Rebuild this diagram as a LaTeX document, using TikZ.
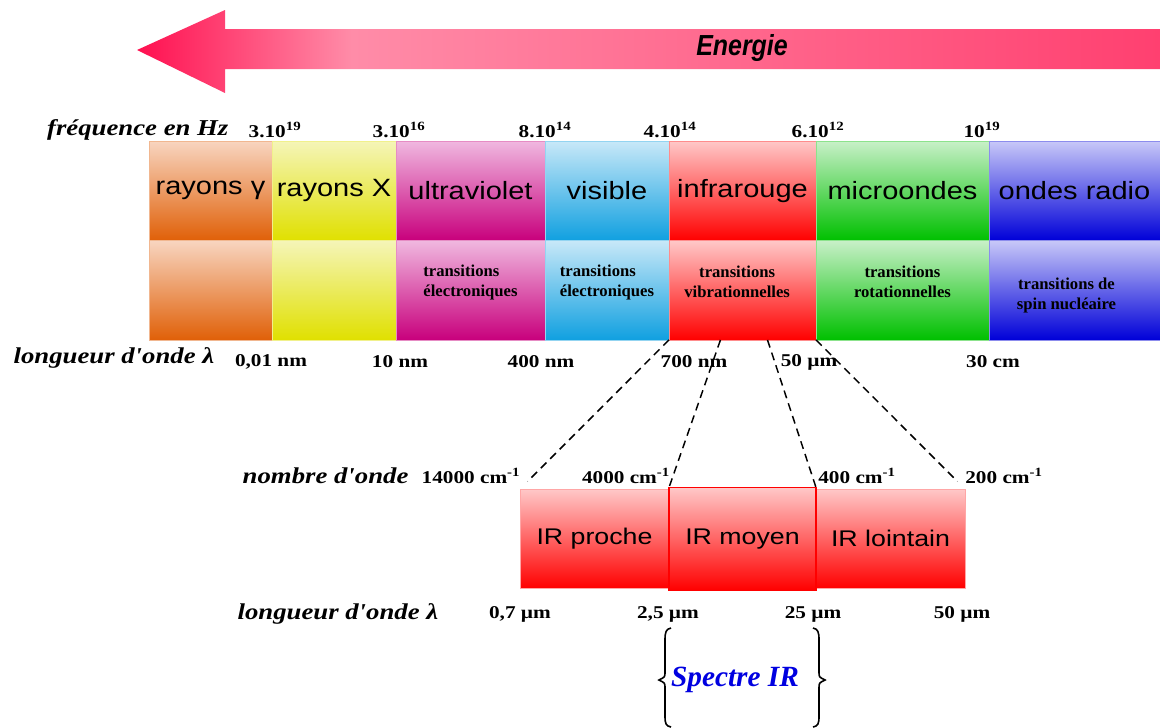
\documentclass[tikz,border=0pt]{standalone}
\usepackage{fontspec}
\setmainfont{Liberation Serif}
\newfontfamily\bandfont[FakeStretch=1.16]{Liberation Sans}
\newfontfamily\irfont[FakeStretch=1.18]{Liberation Sans}
\newfontfamily\enfont[FakeStretch=0.86]{Liberation Sans}
\newfontfamily\lblfont[FakeStretch=1.18]{Liberation Serif}
\newfontfamily\numfont[FakeStretch=1.18]{Liberation Serif}
\usetikzlibrary{positioning, calc}
\usepackage{xcolor}
\definecolor{gamT}{HTML}{F8D5C0}\definecolor{gamB}{HTML}{E06008}
\definecolor{xrT}{HTML}{F5F5B8}\definecolor{xrB}{HTML}{E0E000}
\definecolor{uvT}{HTML}{F0B8E0}\definecolor{uvB}{HTML}{C8007C}
\definecolor{visT}{HTML}{C8E8F8}\definecolor{visB}{HTML}{10A0E0}
\definecolor{irT}{HTML}{FFC8C8}\definecolor{irB}{HTML}{FF0000}
\definecolor{micT}{HTML}{C8F0C8}\definecolor{micB}{HTML}{00C000}
\definecolor{radT}{HTML}{C8C8F8}\definecolor{radB}{HTML}{0000D8}
\definecolor{enA}{HTML}{FF1050}\definecolor{enB}{HTML}{FF8CA8}\definecolor{enC}{HTML}{FF4070}
\definecolor{specblue}{HTML}{0000E0}
\pgfdeclarehorizontalshading{energie}{100bp}{color(0bp)=(enA); color(25bp)=(enA); color(35.5bp)=(enB); color(75bp)=(enC); color(100bp)=(enC)}
\tikzset{
    cell/.style 2 args={rectangle, inner sep=0pt, outer sep=0pt, top color=#1, bottom color=#2, draw=#2!45!white, line width=0.5pt, minimum height=74.6pt},
    wd/.style={minimum width=#1*0.75pt},
    bandtxt/.style={font=\bandfont\fontsize{18.75}{22}\selectfont},
    trans/.style={font=\bfseries\fontsize{12.5}{15}\selectfont, align=center},
    freq/.style={font=\numfont\bfseries\fontsize{13.5}{15}\selectfont, inner sep=1pt},
    axislbl/.style={font=\lblfont\bfseries\itshape\fontsize{17}{20}\selectfont, inner sep=1pt},
    irbox/.style={rectangle, inner sep=0pt, outer sep=0pt, top color=irT, bottom color=irB, draw=irB!35!white, line width=0.5pt, minimum height=74.5pt, font=\irfont\fontsize{17}{20}\selectfont},
    zoomline/.style={dash pattern=on 6pt off 4pt, line width=1.1pt}
}

\begin{document}
\begin{tikzpicture}[x=0.75pt, y=-0.75pt]
  \useasboundingbox (0,0) rectangle (1160,728);

  \shade[shading=energie] (137,50) -- (225,10) -- (225,29) -- (1160,29) -- (1160,69) -- (225,69) -- (225,93) -- cycle;
  \node[font=\enfont\bfseries\itshape\fontsize{21.75}{24}\selectfont] (energie) at (742,48) {Energie};

  \node[cell={gamT}{gamB}, wd=123, bandtxt, anchor=north west] (gam) at (149,141) {rayons γ};
  \node[cell={xrT}{xrB},   wd=124, bandtxt, right=0pt of gam] (xr)  {rayons X};
  \node[cell={uvT}{uvB},   wd=149, bandtxt, right=0pt of xr]  (uv)  {ultraviolet};
  \node[cell={visT}{visB}, wd=124, bandtxt, right=0pt of uv]  (vis) {visible};
  \node[cell={irT}{irB},   wd=147, bandtxt, right=0pt of vis] (ir)  {infrarouge};
  \node[cell={micT}{micB}, wd=173, bandtxt, right=0pt of ir]  (mic) {microondes};
  \node[cell={radT}{radB}, wd=171, bandtxt, right=0pt of mic] (rad) {ondes radio};

  \node[cell={gamT}{gamB}, wd=123, below=0pt of gam] (gam2) {};
  \node[cell={xrT}{xrB},   wd=124, below=0pt of xr]  (xr2)  {};
  \node[cell={uvT}{uvB},   wd=149, below=0pt of uv]  (uv2)  {};
  \node[cell={visT}{visB}, wd=124, below=0pt of vis] (vis2) {};
  \node[cell={irT}{irB},   wd=147, below=0pt of ir]  (ir2)  {};
  \node[cell={micT}{micB}, wd=173, below=0pt of mic] (mic2) {};
  \node[cell={radT}{radB}, wd=171, below=0pt of rad] (rad2) {};

  \node[trans, align=left] (uvt)  at ([yshift=6pt]uv2.center)  {transitions\\électroniques};
  \node[trans, align=left] (vist) at ([yshift=6pt]vis2.center) {transitions\\électroniques};
  \node[trans] (irt)  at ([xshift=-4pt, yshift=6pt]ir2.center)  {transitions\\vibrationnelles};
  \node[trans] (mict) at ([yshift=6pt]mic2.center) {transitions\\rotationnelles};
  \node[trans] (radt) at ([xshift=-6pt, yshift=-4pt]rad2.center) {transitions de\\spin nucléaire};

  \node[axislbl, anchor=east] (frq) at (230,130) {fréquence en Hz};
  \node[freq] (f1) at (275,130) {3.10\textsuperscript{19}};
  \node[freq] (f2) at (399,130) {3.10\textsuperscript{16}};
  \node[freq] (f3) at (545,130) {8.10\textsuperscript{14}};
  \node[freq] (f4) at (670,130) {4.10\textsuperscript{14}};
  \node[freq] (f5) at (818,130) {6.10\textsuperscript{12}};
  \node[freq] (f6) at (982,130) {10\textsuperscript{19}};

  \node[axislbl, anchor=west] (lam1) at (12,358) {longueur d'onde λ};
  \node[freq] (w1) at (271,362) {0,01 nm};
  \node[freq] (w2) at (400,362) {10 nm};
  \node[freq] (w3) at (541,362) {400 nm};
  \node[freq] (w4) at (694,362) {700 nm};
  \node[freq] (w5) at (809,362) {50 µm};
  \node[freq] (w6) at (993,362) {30 cm};

  \node[axislbl, anchor=east] (nbo) at (410,476) {nombre d'onde};
  \node[freq] (k1) at (471,476) {14000 cm\textsuperscript{-1}};
  \node[freq] (k2) at (626,476) {4000 cm\textsuperscript{-1}};
  \node[freq] (k3) at (857,476) {400 cm\textsuperscript{-1}};
  \node[freq] (k4) at (1004,476) {200 cm\textsuperscript{-1}};

  \node[irbox, wd=149, anchor=north west] (pro)  at (520,489) {IR proche};
  \node[irbox, wd=149, anchor=north west] (loin) at (816,489) {IR lointain};
  \node[irbox, wd=147, draw=irB, line width=1pt, minimum height=77pt, anchor=north west] (moy) at (669,487.5) {IR moyen};

  \node[axislbl, anchor=west] (lam2) at (236,614) {longueur d'onde λ};
  \node[freq] (m1) at (520,614) {0,7 µm};
  \node[freq] (m2) at (668,614) {2,5 µm};
  \node[freq] (m3) at (813,614) {25 µm};
  \node[freq] (m4) at (962,614) {50 µm};

  \coordinate (c1) at ($(ir2.south west)!0.35!(ir2.south east)$);
  \coordinate (c2) at ($(ir2.south west)!0.67!(ir2.south east)$);
  \draw[zoomline, shorten >=8pt] (ir2.south west) -- (pro.north west);
  \draw[zoomline] (c1) -- (moy.north west);
  \draw[zoomline] (c2) -- (moy.north east);
  \draw[zoomline, shorten >=8pt] (ir2.south east) -- (loin.north east);

  \node[font=\bfseries\itshape\fontsize{22}{24}\selectfont, text=specblue] (spec) at (735,680) {Spectre IR};
  \draw[line width=1.2pt] (671,628) .. controls (666,629) and (665,632) .. (665,640) -- (665,672) .. controls (665,677) .. (659,680) .. controls (665,683) .. (665,688) -- (665,716) .. controls (665,724) and (666,726) .. (671,727);
  \draw[line width=1.2pt] (813,628) .. controls (818,629) and (819,632) .. (819,640) -- (819,672) .. controls (819,677) .. (825,680) .. controls (819,683) .. (819,688) -- (819,716) .. controls (819,724) and (818,726) .. (813,727);
\end{tikzpicture}
\end{document}
